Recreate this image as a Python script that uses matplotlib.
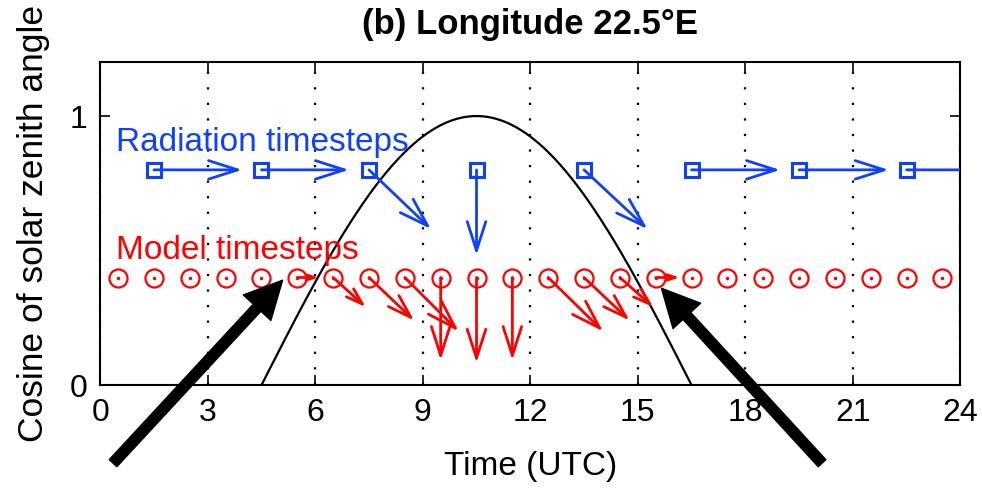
import numpy as np
import matplotlib
matplotlib.use('Agg')
from matplotlib import pyplot as plt

plt.rcParams['font.family'] = ['Liberation Sans', 'DejaVu Sans']

# radiation timesteps (blue squares) and where their arrows point
rad_t = [1.5, 4.5, 7.5, 10.5, 13.5, 16.5, 19.5, 22.5]
rad_y = [0.8, 0.8, 0.8, 0.8, 0.8, 0.8, 0.8, 0.8]
rad_end_t = [3.96, 6.94, 9.23, 10.5, 15.27, 18.97, 22.0, 25.0]
rad_end_y = [0.80, 0.80, 0.58, 0.483, 0.58, 0.80, 0.80, 0.80]

# model timesteps (red circles)
mod_t = [0.5, 1.5, 2.5, 3.5, 4.5, 5.5, 6.5, 7.5, 8.5, 9.5, 10.5, 11.5,
         12.5, 13.5, 14.5, 15.5, 16.5, 17.5, 18.5, 19.5, 20.5, 21.5, 22.5, 23.5]
mod_y = [0.4] * 24
# red arrows from model timesteps
arr_t = [5.5, 6.5, 7.5, 8.5, 9.5, 10.5, 11.5, 12.5, 13.5, 14.5, 15.5]
arr_end_t = [6.1, 7.41, 8.76, 10.0, 9.5, 10.5, 11.5, 14.03, 14.77, 15.43, 16.17]
arr_end_y = [0.40, 0.29, 0.24, 0.20, 0.093, 0.083, 0.093, 0.20, 0.24, 0.29, 0.40]

# big black pointers: (tail, tip)
ptr_tail = [(0.36, -0.29), (20.14, -0.29)]
ptr_tip = [(5.09, 0.39), (15.66, 0.36)]

noon_utc = 10.5  # local noon at 22.5E
t = np.linspace(noon_utc - 6, noon_utc + 6, 300)
mu0 = np.cos(2 * np.pi * (t - noon_utc) / 24)

blue = '#1040ff'
red = '#ff0000'

fig = plt.figure(figsize=(9.82, 4.9), dpi=100)
ax = fig.add_axes([0.102, 0.214, 0.876, 0.659])
ax.set_xlim(0, 24)
ax.set_ylim(0, 1.2)
ax.set_xticks(range(0, 25, 3))
ax.set_yticks([0, 1])
ax.tick_params(direction='in', top=True, right=True, length=7, width=1.2,
               labelsize=23, pad=9)
ax.grid(axis='x', color='k', linestyle=(0, (1, 6)), linewidth=1.6)
for s in ax.spines.values():
    s.set_linewidth(1.5)

ax.plot(t, mu0, color='k', lw=1.6, zorder=3)

ax.set_title('(b) Longitude 22.5°E', fontsize=25, fontweight='bold', pad=20)
ax.set_xlabel('Time (UTC)', fontsize=24, labelpad=17)
ax.set_ylabel('Cosine of solar zenith angle', fontsize=25.5, labelpad=14)

ax.text(0.45, 0.9, 'Radiation timesteps', color=blue, fontsize=24, va='center')
ax.text(0.45, 0.5, 'Model timesteps', color=red, fontsize=24, va='center')

ax.plot(mod_t, mod_y, 'o', mfc='none', mec=red, ms=13, mew=1.6, zorder=4)
ax.plot(mod_t, mod_y, '.', color=red, ms=3, zorder=4)
ax.plot(rad_t, rad_y, 's', mfc='none', mec=blue, ms=10, mew=2.2, zorder=4)

def arrow(x0, y0, x1, y1, c, lw):
    p0 = ax.transData.transform((x0, y0))
    p1 = ax.transData.transform((x1, y1))
    L = np.hypot(*(p1 - p0))
    hl = min(0.38 * L, 29) * 0.72
    hw = hl * 0.32
    a = ax.annotate('', xy=(x1, y1), xytext=(x0, y0), annotation_clip=False,
                    arrowprops=dict(arrowstyle='->,head_length=%.2f,head_width=%.2f' % (hl, hw),
                                    mutation_scale=1, color=c, lw=lw,
                                    shrinkA=0, shrinkB=0),
                    zorder=5)
    a.arrow_patch.set_clip_path(ax.patch)

for i in range(len(rad_t)):
    arrow(rad_t[i], rad_y[i], rad_end_t[i], rad_end_y[i], blue, 2.0)
for i in range(len(arr_t)):
    arrow(arr_t[i], 0.4, arr_end_t[i], arr_end_y[i], red, 2.0)

for tail, tip in zip(ptr_tail, ptr_tip):
    ax.annotate('', xy=tip, xytext=tail, annotation_clip=False,
                arrowprops=dict(arrowstyle='simple,head_length=0.9,head_width=0.9,tail_width=0.25',
                                mutation_scale=30, color='k', shrinkA=0, shrinkB=0),
                zorder=6)

fig.savefig('out.png', dpi=100)
